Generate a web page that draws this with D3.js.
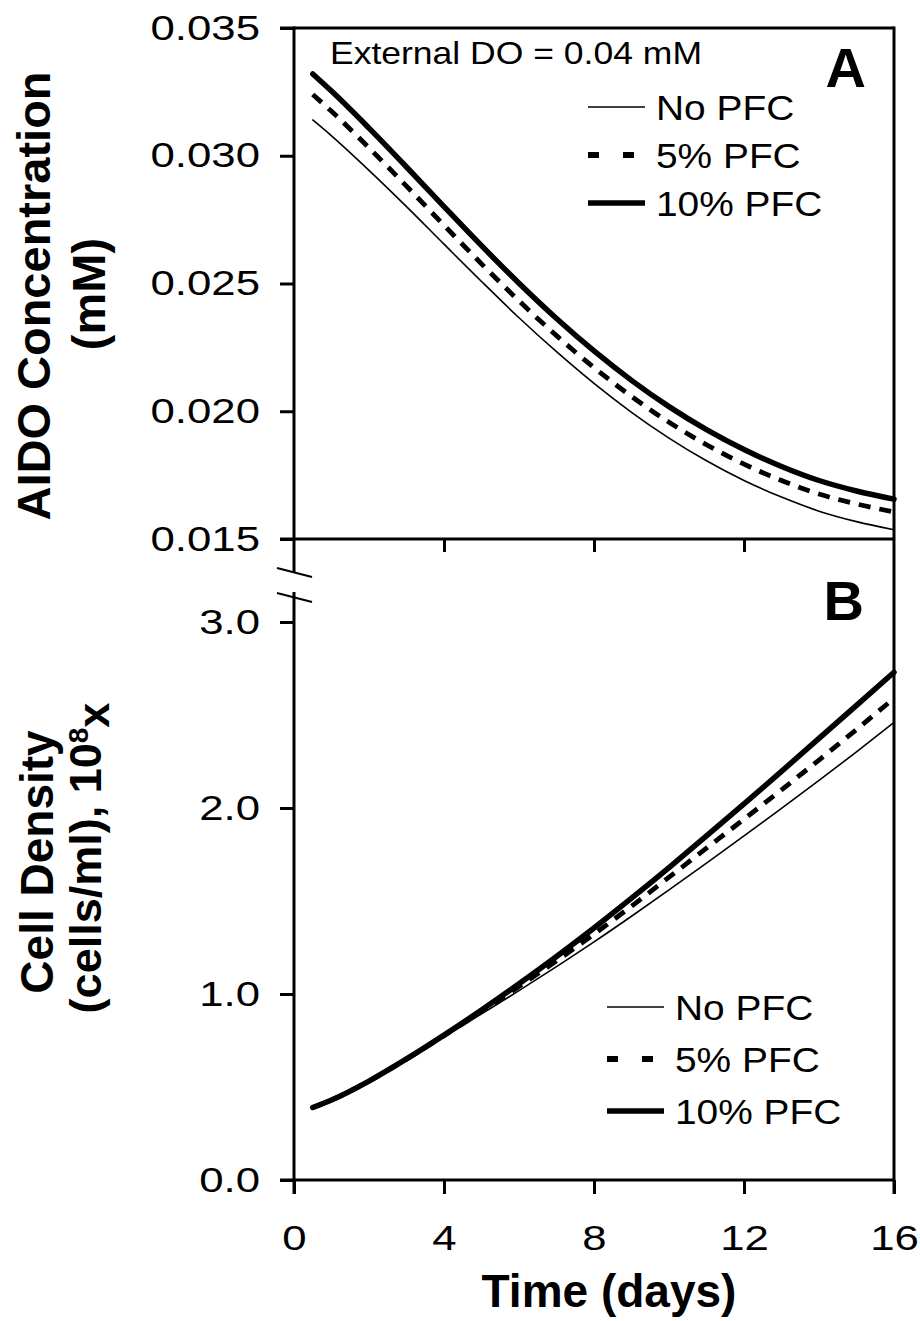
<!DOCTYPE html>
<html>
<head>
<meta charset="utf-8">
<script src="https://cdn.jsdelivr.net/npm/d3@7"></script>
<style>
  body { margin: 0; background: #fff; }
  svg text { font-family: "Liberation Sans", Arial, sans-serif; fill: #000; }
  .title { font-weight: bold; }
</style>
</head>
<body>
<div id="chart"></div>
<script>
// data
var days = [0.5, 1, 2, 3, 4, 5, 6, 7, 8, 9, 10, 11, 12, 13, 14, 15, 16];

// AIDO concentration (mM)
var doNoPFC = [0.03140, 0.03078, 0.02943, 0.02801, 0.02654, 0.02508, 0.02366, 0.02233, 0.02109, 0.01996, 0.01895, 0.01806, 0.01729, 0.01664, 0.01609, 0.01568, 0.01536];
var doPFC5  = [0.03240, 0.03174, 0.03031, 0.02881, 0.02728, 0.02577, 0.02432, 0.02296, 0.02171, 0.02058, 0.01957, 0.01869, 0.01793, 0.01729, 0.01676, 0.01637, 0.01606];
var doPFC10 = [0.03320, 0.03253, 0.03108, 0.02956, 0.02801, 0.02648, 0.02501, 0.02363, 0.02236, 0.02121, 0.02018, 0.01928, 0.01850, 0.01784, 0.01729, 0.01688, 0.01656];

// cell density (10^8 cells/ml)
var cellNoPFC = [0.39, 0.43, 0.531, 0.647, 0.769, 0.893, 1.018, 1.147, 1.280, 1.418, 1.560, 1.704, 1.850, 1.998, 2.148, 2.302, 2.460];
var cellPFC5  = [0.39, 0.43, 0.532, 0.650, 0.776, 0.906, 1.040, 1.178, 1.322, 1.472, 1.628, 1.784, 1.940, 2.098, 2.258, 2.422, 2.590];
var cellPFC10 = [0.39, 0.43, 0.532, 0.651, 0.779, 0.914, 1.055, 1.202, 1.355, 1.515, 1.680, 1.850, 2.022, 2.197, 2.374, 2.552, 2.730];

var seriesNames = ["No PFC", "5% PFC", "10% PFC"];
var xTicks = [0, 4, 8, 12, 16];
var yTicksA = [0.015, 0.020, 0.025, 0.030, 0.035];
var yTicksB = [0, 1, 2, 3];

var svgWidth = 920;
var svgHeight = 1321;

var svg = d3.select("#chart")
  .append("svg")
  .attr("width", svgWidth)
  .attr("height", svgHeight);

// scales
var x = d3.scaleLinear().domain([0, 16]).range([294, 894]);
var yA = d3.scaleLinear().domain([0.015, 0.035]).range([539, 28]);
var yB = d3.scaleLinear().domain([0, 3]).range([1180, 622]);

// line styles per series
var styles = [
  { width: 1.6, dash: null, legendDash: null },
  { width: 4.8, dash: "12,9", legendDash: "11,24" },
  { width: 5.5, dash: null, legendDash: null }
];

// the figure's lettering is wider than Arial, stretch text sideways about its anchor
function widen(sel, s) {
  sel.each(function() {
    var t = d3.select(this);
    var ax = +t.attr("x") || 0;
    t.attr("transform", "translate(" + ax + ",0) scale(" + s + ",1) translate(" + (-ax) + ",0)");
  });
}

// ---- axes (ticks + labels), domain drawn separately
function styleAxis(g) {
  g.select(".domain").remove();
  g.selectAll(".tick line").attr("stroke", "#000").attr("stroke-width", 3);
  g.selectAll(".tick text").style("font-size", "35px").attr("fill", "#000").call(widen, 1.25);
}

svg.append("g")
  .attr("transform", "translate(" + x(0) + ",0)")
  .call(d3.axisLeft(yA).tickValues(yTicksA).tickFormat(d3.format(".3f")).tickSize(14).tickPadding(20))
  .call(styleAxis);

svg.append("g")
  .attr("transform", "translate(" + x(0) + ",0)")
  .call(d3.axisLeft(yB).tickValues(yTicksB).tickFormat(d3.format(".1f")).tickSize(14).tickPadding(20))
  .call(styleAxis);

svg.append("g")
  .attr("transform", "translate(0," + yB(0) + ")")
  .call(d3.axisBottom(x).tickValues(xTicks).tickSize(14).tickPadding(31))
  .call(styleAxis);

// ticks under panel A
svg.append("g")
  .attr("transform", "translate(0," + yA(0.015) + ")")
  .call(d3.axisBottom(x).tickValues([4, 8, 12]).tickSize(13).tickFormat(""))
  .call(styleAxis);

// ---- frame
var frame = svg.append("g")
  .attr("stroke", "#000")
  .attr("stroke-width", 3)
  .attr("fill", "none");

var breakTop = 573, breakBottom = 592;

frame.append("line")
  .attr("x1", x(0) - 14).attr("x2", x(16))
  .attr("y1", yA(0.035)).attr("y2", yA(0.035));
frame.append("line")
  .attr("x1", x(0) - 14).attr("x2", x(16))
  .attr("y1", yA(0.015)).attr("y2", yA(0.015));
frame.append("line")
  .attr("x1", x(0) - 14).attr("x2", x(16))
  .attr("y1", yB(0)).attr("y2", yB(0));
frame.append("line")
  .attr("x1", x(16)).attr("x2", x(16))
  .attr("y1", yA(0.035) - 1.5).attr("y2", yB(0) + 14);
frame.append("line")
  .attr("x1", x(0)).attr("x2", x(0))
  .attr("y1", yA(0.035) - 1.5).attr("y2", breakTop);
frame.append("line")
  .attr("x1", x(0)).attr("x2", x(0))
  .attr("y1", breakBottom).attr("y2", yB(0) + 14);

// axis break marks
[breakTop - 5, breakBottom + 1].forEach(function(yy) {
  svg.append("line")
    .attr("x1", x(0) - 17).attr("x2", x(0) + 18)
    .attr("y1", yy).attr("y2", yy + 9)
    .attr("stroke", "#000").attr("stroke-width", 2.2);
});

// ---- curves
var lineA = d3.line().x(function(d) { return x(d[0]); }).y(function(d) { return yA(d[1]); }).curve(d3.curveMonotoneX);
var lineB = d3.line().x(function(d) { return x(d[0]); }).y(function(d) { return yB(d[1]); }).curve(d3.curveMonotoneX);

var seriesA = [doNoPFC, doPFC5, doPFC10];
var seriesB = [cellNoPFC, cellPFC5, cellPFC10];

function drawSeries(list, line) {
  list.forEach(function(vals, i) {
    svg.append("path")
      .datum(days.map(function(d, j) { return [d, vals[j]]; }))
      .attr("d", line)
      .attr("fill", "none")
      .attr("stroke", "#000")
      .attr("stroke-width", styles[i].width)
      .attr("stroke-dasharray", styles[i].dash)
      .attr("stroke-linecap", i == 1 ? "butt" : "round");
  });
}
drawSeries(seriesA, lineA);
drawSeries(seriesB, lineB);

// ---- legends
function legend(x0, y0, step) {
  var g = svg.append("g");
  seriesNames.forEach(function(name, i) {
    var yy = y0 + i * step;
    g.append("line")
      .attr("x1", x0).attr("x2", x0 + 57)
      .attr("y1", yy).attr("y2", yy)
      .attr("stroke", "#000")
      .attr("stroke-width", i == 1 ? 6 : styles[i].width)
      .attr("stroke-dasharray", styles[i].legendDash);
    g.append("text")
      .attr("x", x0 + 68)
      .attr("y", yy + 13)
      .style("font-size", "36px")
      .text(name)
      .call(widen, 1.08);
  });
}
legend(588, 107, 48);
legend(607, 1007, 52);

// ---- annotations
svg.append("text")
  .attr("x", 330).attr("y", 64)
  .style("font-size", "32px")
  .text("External DO = 0.04 mM")
  .call(widen, 1.11);

svg.append("text")
  .attr("class", "title")
  .attr("x", 866).attr("y", 87)
  .attr("text-anchor", "end")
  .style("font-size", "56px")
  .text("A");

svg.append("text")
  .attr("class", "title")
  .attr("x", 864).attr("y", 620)
  .attr("text-anchor", "end")
  .style("font-size", "56px")
  .text("B");

// ---- axis titles
svg.append("text")
  .attr("class", "title")
  .attr("transform", "translate(50, 296) rotate(-90)")
  .attr("text-anchor", "middle")
  .style("font-size", "47px")
  .text("AIDO Concentration");

svg.append("text")
  .attr("class", "title")
  .attr("transform", "translate(105, 294) rotate(-90)")
  .attr("text-anchor", "middle")
  .style("font-size", "47px")
  .text("(mM)");

svg.append("text")
  .attr("class", "title")
  .attr("transform", "translate(53, 862) rotate(-90)")
  .attr("text-anchor", "middle")
  .style("font-size", "46px")
  .text("Cell Density");

var t2 = svg.append("text")
  .attr("class", "title")
  .attr("transform", "translate(101, 858) rotate(-90)")
  .attr("text-anchor", "middle")
  .style("font-size", "45px");
t2.append("tspan").text("(cells/ml), 10");
t2.append("tspan").attr("dy", "-0.45em").style("font-size", "28px").text("8");
t2.append("tspan").attr("dy", "0.45em").text("x");

svg.append("text")
  .attr("class", "title")
  .attr("x", x(8.4)).attr("y", 1307)
  .attr("text-anchor", "middle")
  .style("font-size", "46px")
  .text("Time (days)");
</script>
</body>
</html>
